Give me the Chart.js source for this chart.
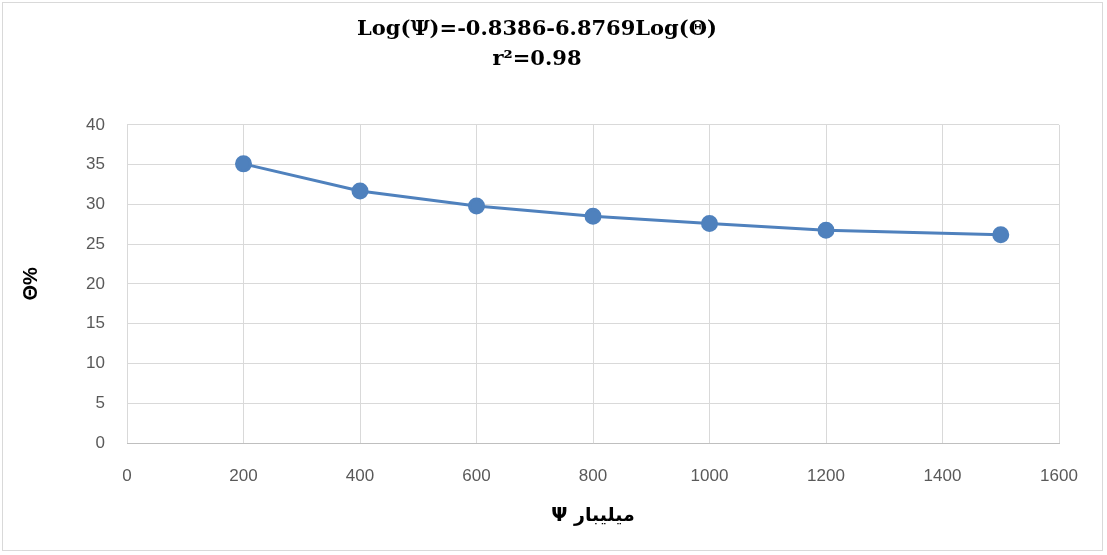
<!DOCTYPE html>
<html>
<head>
<meta charset="utf-8">
<script src="https://cdn.jsdelivr.net/npm/chart.js@4.4.0/dist/chart.umd.min.js"></script>
<style>
  body { margin: 0; background: #fff; }
  #wrap { position: absolute; left: 2px; top: 2px; width: 1101px; height: 549px; border: 1px solid #d9d9d9; box-sizing: border-box; }
  #holder { position: absolute; left: 0; top: 0; width: 1107px; height: 555px; }
</style>
</head>
<body>
<div id="wrap"></div>
<div id="holder"><canvas id="psiChart" width="1107" height="555"></canvas></div>
<script>
// pressure (millibar) vs moisture %
const pressure = [200, 400, 600, 800, 1000, 1200, 1500];
const moisture = [35.1, 31.7, 29.8, 28.5, 27.6, 26.75, 26.2];
const titleLines = ['Log(\u03A8)=-0.8386-6.8769Log(\u0398)', 'r\u00B2=0.98'];
const xTitle = '\u03A8 \u0645\u064A\u0644\u064A\u0628\u0627\u0631';
const yTitle = '\u0398%';

const blue = '#4f81bd';
const tickFont = { family: 'Liberation Sans, Arial, sans-serif', size: 17 };

function createPsiChart() {
    const ctx = document.getElementById('psiChart').getContext('2d');
    new Chart(ctx, {
        type: 'line',
        data: {
            datasets: [{
                data: pressure.map((p, i) => ({ x: p, y: moisture[i] })),
                borderColor: blue,
                backgroundColor: blue,
                borderWidth: 3,
                pointRadius: 7,
                pointHoverRadius: 7,
                tension: 0,
                fill: false
            }]
        },
        options: {
            responsive: false,
            animation: false,
            layout: { padding: { left: 15, right: 48, top: 0, bottom: 10 } },
            plugins: {
                legend: { display: false },
                tooltip: { enabled: false },
                title: {
                    display: true,
                    text: titleLines,
                    color: '#000',
                    font: { family: 'DejaVu Serif, Liberation Serif, serif', size: 21, weight: 'bold', lineHeight: 1.45 },
                    padding: { top: 14, bottom: 50 }
                }
            },
            scales: {
                x: {
                    type: 'linear',
                    min: 0,
                    max: 1600,
                    ticks: { stepSize: 200, color: '#595959', font: tickFont, padding: 23, callback: v => String(v) },
                    grid: { color: '#d9d9d9', drawTicks: false },
                    border: { color: '#bfbfbf' },
                    title: {
                        display: true,
                        text: xTitle,
                        color: '#000',
                        font: { family: 'DejaVu Sans, sans-serif', size: 19, weight: 'bold' },
                        padding: { top: 12, bottom: 18 }
                    },
                    afterFit: scale => { scale.height = 102; }
                },
                y: {
                    min: 0,
                    max: 40,
                    ticks: { stepSize: 5, color: '#595959', font: tickFont, padding: 22 },
                    grid: { color: '#d9d9d9', drawTicks: false },
                    border: { display: false },
                    title: {
                        display: true,
                        text: yTitle,
                        color: '#000',
                        font: { family: 'Liberation Sans, Arial, sans-serif', size: 20, weight: 'bold' },
                        padding: { bottom: 0 }
                    },
                    afterFit: scale => { scale.width = 112; }
                }
            }
        }
    });
}

createPsiChart();
</script>
</body>
</html>
